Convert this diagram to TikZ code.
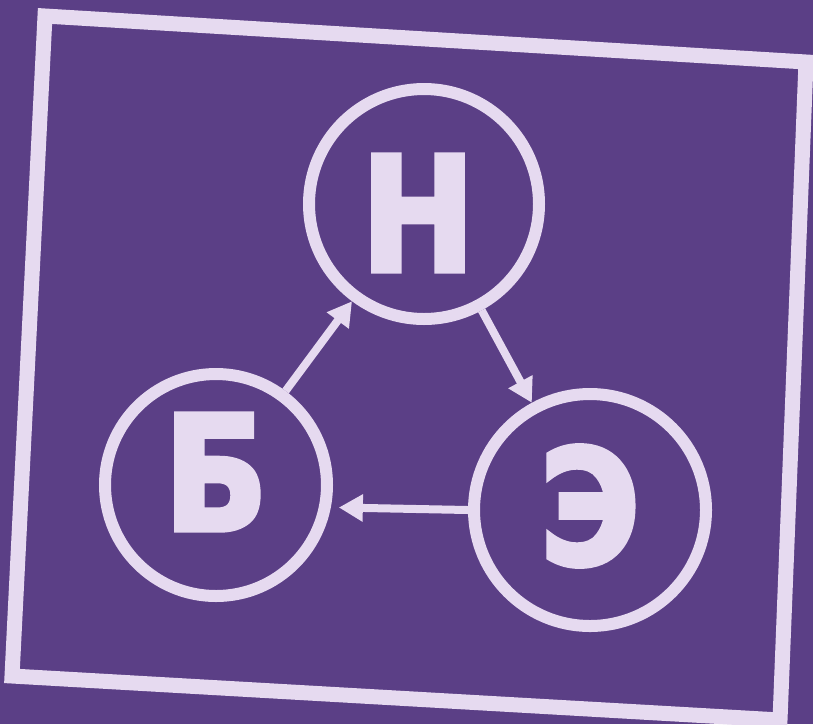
\documentclass[tikz,border=0pt]{standalone}
\usepackage{fontspec}
\setmainfont{DejaVu Sans}
\newfontfamily\heavy[FakeBold=3,FakeStretch=0.85]{DejaVu Sans Bold}
\usetikzlibrary{arrows.meta}
\definecolor{bgpurple}{HTML}{5B3F86}
\definecolor{lav}{HTML}{E6DAF0}
\tikzset{
  ring/.style={circle, draw=lav, line width=12pt, minimum size=#1, inner sep=0pt},
  letter/.style={inner sep=0pt, text=lav, font=\heavy\fontsize{160}{160}\selectfont},
  link/.style={draw=lav, line width=8pt, -{Triangle[length=24pt,width=26pt]}}
}
\begin{document}
\begin{tikzpicture}[x=1pt,y=-1pt]
\fill[bgpurple] (0,0) rectangle (813,724);
\useasboundingbox (0,0) rectangle (813,724);
\draw[lav, line width=15pt, line join=miter] (45,16) -- (806,62) -- (780,720) -- (12,676) -- cycle;
\node[ring=230pt] (n) at (424,204) {};
\node[ring=222pt] (b) at (216,485) {};
\node[ring=232pt] (e) at (590,510) {};
\node[letter] (nl) at (418,213) {Н};
\node[letter] (bl) at (216,472) {Б};
\node[letter] (el) at (590,506) {Э};
\draw[link] (b) -- (n);
\draw[link] (n) -- (e);
\draw[link, shorten >=8pt] (e.west) -- (b.-11);
\end{tikzpicture}
\end{document}
